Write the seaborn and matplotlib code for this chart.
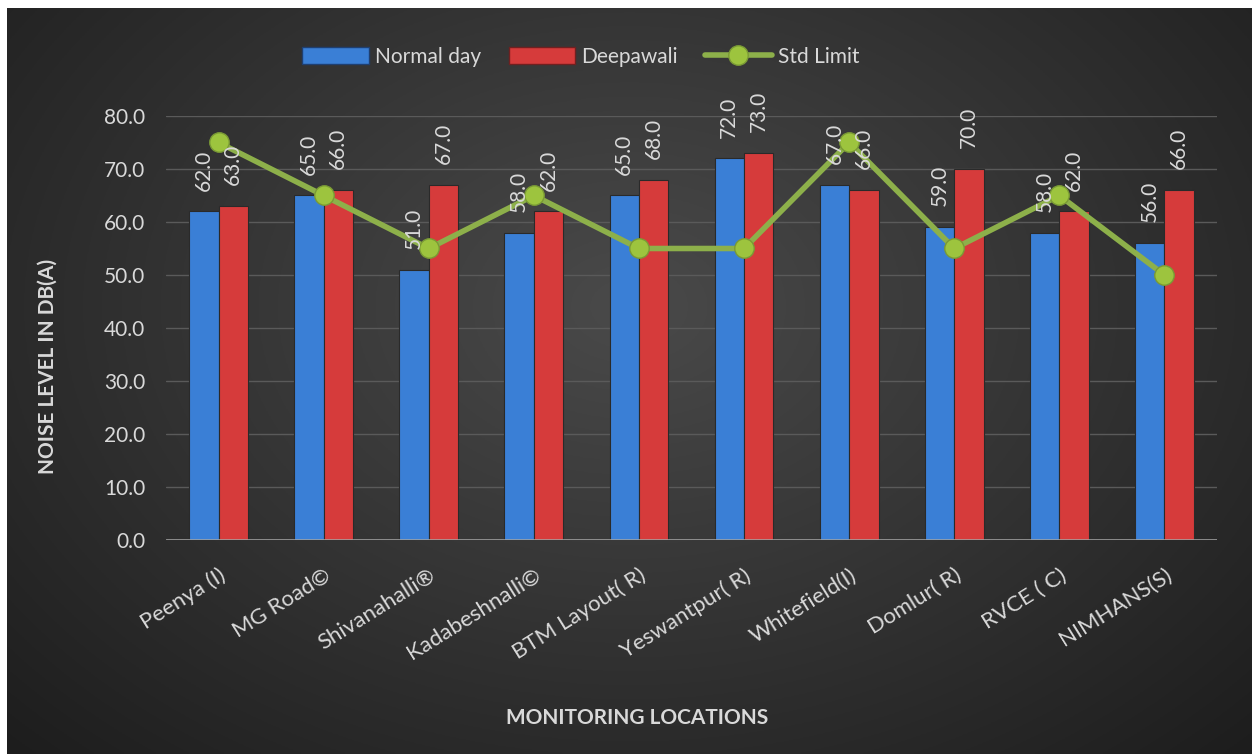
import numpy as np
import pandas as pd
import matplotlib.pyplot as plt
import seaborn as sns
from matplotlib.patches import Patch
from matplotlib.lines import Line2D

locations = ["Peenya (I)", "MG Road©", "Shivanahalli®", "Kadabeshnalli©", "BTM Layout( R)",
             "Yeswantpur( R)", "Whitefield(I)", "Domlur( R)", "RVCE ( C)", "NIMHANS(S)"]
normal_day = [62, 65, 51, 58, 65, 72, 67, 59, 58, 56]
deepawali = [63, 66, 67, 62, 68, 73, 66, 70, 62, 66]
std_limit = [75, 65, 55, 65, 55, 55, 75, 55, 65, 50]
series_names = ["Normal day", "Deepawali", "Std Limit"]

df = pd.DataFrame({
    "location": locations * 2,
    "value": normal_day + deepawali,
    "series": [series_names[0]] * len(locations) + [series_names[1]] * len(locations),
})

sns.set_style("dark")
plt.rcParams["font.family"] = ["Lato", "DejaVu Sans"]

text_col = "#d9d9d9"
blue = "#3a7fd6"
red = "#d63b3b"
green = "#8db04a"

fig = plt.figure(figsize=(12.52, 7.54), dpi=100)
fig.patch.set_facecolor("white")

# dark radial gradient background
bg = fig.add_axes([7 / 1252, 0, 1 - 7 / 1252, 1 - 8 / 754])
yy, xx = np.mgrid[0:1:300j, 0:1:500j]
r = np.sqrt(((xx - 0.5) / 0.75) ** 2 + ((yy - 0.6) / 0.9) ** 2)
r = np.clip(r / r.max(), 0, 1)
c = 0x4a / 255 * (1 - r) + 0x1d / 255 * r
bg.imshow(np.dstack([c, c, c]), aspect="auto", extent=[0, 1, 0, 1], origin="lower")
bg.set_axis_off()

ax = fig.add_axes([166 / 1252, 1 - 540 / 754, (1217 - 166) / 1252, (540 - 116) / 754])
ax.set_facecolor("none")

sns.barplot(data=df, x="location", y="value", hue="series", palette=[blue, red],
            width=0.56, saturation=1, edgecolor="#2a2a2a", linewidth=0.8,
            legend=False, ax=ax, zorder=3)

for cont in ax.containers:
    ax.bar_label(cont, fmt="%.1f", rotation=90, padding=15, color=text_col,
                 fontsize=15, zorder=6)

ax.plot(range(len(locations)), std_limit, color=green, lw=4, marker="o", ms=14,
        mfc="#9dc43e", mec="#7a9a35", zorder=5, clip_on=False)

ax.set_ylim(0, 80)
ax.set_xlim(-0.5, len(locations) - 0.5)
ax.set_yticks(np.arange(0, 81, 10))
ax.set_yticklabels([f"{v:.1f}" for v in np.arange(0, 81, 10)])
ax.yaxis.grid(True, color="#5a5a5a", lw=1)
ax.xaxis.grid(False)
ax.axhline(0, color="#a6a6a6", lw=1.8, zorder=4)
for s in ax.spines.values():
    s.set_visible(False)
ax.tick_params(axis="y", length=0, pad=15, labelsize=15, labelcolor=text_col)
ax.tick_params(axis="x", length=0, pad=18, labelsize=16, labelcolor=text_col)
plt.setp(ax.get_xticklabels(), rotation=32, ha="right", rotation_mode="anchor")
ax.set_xlabel("")
ax.set_ylabel("")

fig.text(637 / 1252, 1 - 718 / 754, "MONITORING LOCATIONS", fontsize=15,
         fontweight="bold", color=text_col, ha="center", va="center")
fig.text(48 / 1252, 1 - 366 / 754, "NOISE LEVEL IN DB(A)", fontsize=15,
         fontweight="bold", color=text_col, ha="center", va="center", rotation=90)

handles = [
    Patch(facecolor=blue, edgecolor="#1f3f70"),
    Patch(facecolor=red, edgecolor="#702020"),
    Line2D([], [], color=green, lw=4, marker="o", ms=14, mfc="#9dc43e", mec="#7a9a35"),
]
fig.legend(handles, series_names, loc="center", bbox_to_anchor=(581 / 1252, 1 - 57 / 754),
           ncol=3, frameon=False, fontsize=15, labelcolor=text_col,
           handlelength=3.2, handleheight=0.9, handletextpad=0.3, columnspacing=1.3)

fig.savefig("out.png", dpi=100)
